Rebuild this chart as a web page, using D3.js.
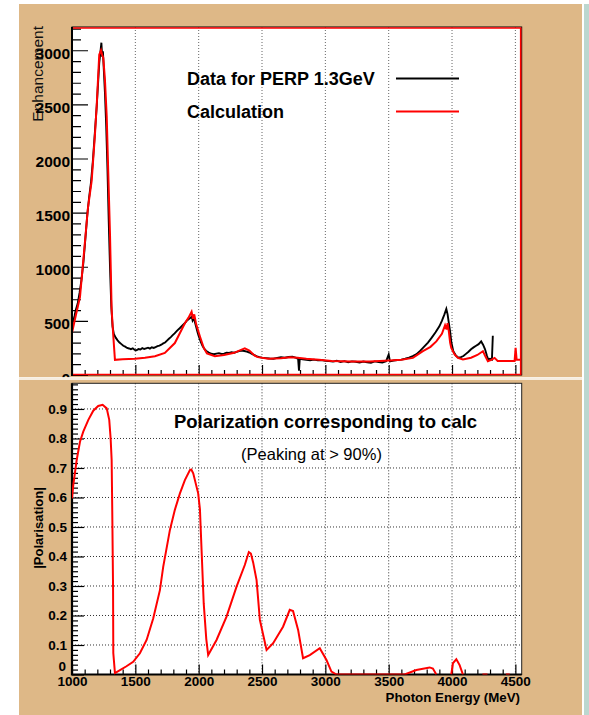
<!DOCTYPE html>
<html>
<head>
<meta charset="utf-8">
<script src="https://cdn.jsdelivr.net/npm/d3@7"></script>
<style>
  body { margin: 0; background: #fff; }
  svg { display: block; font-family: "Liberation Sans", Arial, Helvetica, sans-serif; }
</style>
</head>
<body>
<div id="chart"></div>
<script>
// ---- data ----
// top pad: measured enhancement (black) vs calculation (red)
const dataE = [1000,1010,1020,1030,1045,1060,1075,1090,1105,1120,1135,1150,1165,1180,1195,1205,1215,1225,1232,1238,1244,1252,1260,1270,1280,1290,1300,1310,1320,1330,
  1345,1360,1375,1390,1405,1420,1435,1450,1465,1480,1495,1510,1525,1540,1555,1570,1585,1600,1615,1630,1645,1660,1675,1690,1705,1720,1735,1750,1765,1780,1795,1810,1830,1850,1870,1890,1905,1920,1935,1945,1952,1960,1970,1980,1990,2000,2015,2030,2045,2060,2080,
  2100,2120,2140,2160,2180,2200,2220,2240,2260,2280,2300,2320,2340,2360,2380,2400,2420,2440,2460,2480,2500,2530,2560,2590,2620,2650,2680,2710,2740,2770,2785,2792,2798,2820,2850,2880,2910,2940,2970,
  3000,3030,3060,3090,3120,3150,3180,3210,3240,3270,3300,3330,3360,3390,3420,3450,3480,3500,3510,3540,3570,3600,3630,3660,3690,3720,3750,3780,3810,3840,3870,3900,3920,3940,3955,3965,3975,3985,3995,
  4010,4030,4050,4070,4090,4110,4130,4150,4170,4190,4210,4230,4245,4260,4275,4285,4300,4315,4322];
const dataV = [470,500,545,600,660,760,880,1040,1250,1470,1640,1780,1980,2230,2480,2680,2880,2990,3070,2940,2990,2800,2610,2300,1900,1420,1000,640,450,380,
  345,320,300,285,270,262,250,245,238,246,232,228,240,236,248,240,246,252,244,256,250,258,266,272,280,292,300,318,335,350,368,385,410,432,455,478,500,515,528,540,505,525,490,445,400,360,310,270,240,222,208,
  196,192,198,202,194,198,206,203,210,206,214,220,226,222,216,208,196,184,172,165,160,156,152,150,158,164,160,166,170,158,148,40,150,146,140,136,142,135,138,
  130,128,124,132,120,128,118,126,122,116,124,118,114,126,120,116,128,190,126,134,138,142,150,160,174,192,225,262,300,345,395,450,500,560,610,560,480,400,300,
  220,180,160,165,175,195,215,238,255,270,285,310,280,240,180,146,150,142,362];

const calcE = [1000,1030,1063,1100,1126,1155,1180,1195,1215,1229,1240,1247,1260,1274,1286,1300,1313,1326,1339,1400,1497,1576,1655,1733,1812,1891,1920,1944,1955,1965,1980,2010,2040,2065,2128,
  2200,2280,2330,2364,2400,2440,2467,2550,2650,2720,2780,2850,2950,3050,3200,3350,3508,3600,3691,3770,3830,3876,3920,3945,3957,3965,3975,3985,3994,4020,4047,4086,
  4150,4200,4244,4260,4283,4310,4336,4360,4494,4502,4510,4545];
const calcV = [390,550,720,1200,1545,1790,2200,2490,2960,3000,2950,2930,2730,2390,1880,1300,600,360,140,145,150,160,174,204,295,478,530,585,520,560,470,356,250,200,174,
  185,205,230,247,225,180,165,150,155,165,160,150,140,130,125,125,134,140,158,220,260,310,380,460,420,478,400,300,250,190,158,143,
  160,185,220,180,128,140,158,130,130,250,140,140];

// bottom pad: polarisation from the calculation (null = gap in the curve)
const polE = [1000,1010,1037,1063,1089,1129,1168,1207,1242,1274,1294,1305,1313,1318,1324,1326,1339,1379,1430,1483,1536,1589,1641,1694,1720,1773,1812,1852,1891,1931,1942,1957,1996,2010,2023,2040,2060,2075,
  2141,2220,2299,2364,2396,2412,2430,2457,2483,2536,2588,2666,2719,2745,2785,2824,2877,2956,3009,3048,3088,3626,3718,3823,3849,3876,null,
  3994,4007,4034,4060,4086,null,4240,4280,null,4425,4455];
const polV = [0.597,0.642,0.727,0.789,0.823,0.863,0.894,0.910,0.914,0.902,0.863,0.80,0.727,0.546,0.30,0.073,0.005,0.015,0.028,0.043,0.072,0.117,0.19,0.286,0.365,0.49,0.558,0.614,0.659,0.693,0.695,0.682,0.614,0.56,0.42,0.24,0.12,0.066,
  0.117,0.196,0.298,0.371,0.415,0.41,0.38,0.32,0.185,0.083,0.106,0.162,0.219,0.215,0.151,0.055,0.066,0.089,0.049,0.01,0,0,0.015,0.024,0.02,0,null,
  0,0.038,0.052,0.032,0,null,0,0,null,0,0];

const xTickLabels = ["1000","1500","2000","2500","3000","3500","4000","4500"];
const enhTickLabels = ["0","500","1000","1500","2000","2500","3000"];
const polTickLabels = ["0","0.1","0.2","0.3","0.4","0.5","0.6","0.7","0.8","0.9"];

const legendLabels = ["Data for PERP 1.3GeV", "Calculation"];
const legendColors = ["#000", "#f00"];

// ---- layout ----
const width = 589, height = 715;
const tan = "#deb887";
const frameL = 72, frameR = 521.7;
const topPad = {x: 19, y: 4, w: 563, h: 373.3, top: 27, bottom: 375};
const botPad = {x: 19, y: 380, w: 563, h: 335, top: 383.3, bottom: 674.5};

const svg = d3.select("#chart").append("svg").attr("width", width).attr("height", height);
svg.append("rect").attr("width", width).attr("height", height).attr("fill", "#fff");
svg.append("rect").attr("x", 584).attr("y", 4).attr("width", 5).attr("height", height - 4).attr("fill", "#bcd7cf");

const x = d3.scaleLinear().domain([1000, 4550]).range([frameL, frameR]);
const yEnh = d3.scaleLinear().domain([0, 3215]).range([topPad.bottom, topPad.top]);
const yPol = d3.scaleLinear().domain([0, 0.987]).range([botPad.bottom, botPad.top]);

const majorX = xTickLabels.map(Number);
const minorX = d3.range(1000, 4551, 100).filter(v => v % 500 !== 0);

function makePad(p, id) {
  svg.append("clipPath").attr("id", id).append("rect")
    .attr("x", p.x).attr("y", p.y).attr("width", p.w).attr("height", p.h);
  const g = svg.append("g").attr("clip-path", `url(#${id})`);
  g.append("rect").attr("x", p.x).attr("y", p.y).attr("width", p.w).attr("height", p.h).attr("fill", tan);
  g.append("rect").attr("x", frameL).attr("y", p.top).attr("width", frameR - frameL).attr("height", p.bottom - p.top)
    .attr("fill", "#fff");
  svg.append("clipPath").attr("id", id + "f").append("rect")
    .attr("x", frameL).attr("y", p.top).attr("width", frameR - frameL).attr("height", p.bottom - p.top);
  return g;
}

function gridX(g, p, col) {
  g.append("g").selectAll("line").data(majorX.slice(1)).enter().append("line")
    .attr("x1", d => x(d)).attr("x2", d => x(d)).attr("y1", p.top).attr("y2", p.bottom)
    .attr("stroke", col).attr("stroke-width", 1).attr("stroke-dasharray", "1,2");
}

function xTicks(g, p, withLabels) {
  const ax = d3.axisBottom(x).tickValues(minorX).tickSize(-5).tickFormat("");
  g.append("g").attr("transform", `translate(0,${p.bottom})`).call(ax).call(s => s.select(".domain").remove());
  const axM = d3.axisBottom(x).tickValues(majorX).tickSize(-10).tickPadding(2)
    .tickFormat((d, i) => withLabels ? xTickLabels[i] : "");
  const gm = g.append("g").attr("transform", `translate(0,${p.bottom})`).call(axM);
  gm.select(".domain").remove();
  gm.selectAll("text").attr("font-size", 13.5).attr("font-weight", "bold").attr("fill", "#000")
    .attr("font-family", "Liberation Sans, Arial, sans-serif");
  g.selectAll(".tick line").attr("stroke", "#000").attr("stroke-width", 1.2);
}

// ================= top pad =================
const gTop = makePad(topPad, "clipTop");
gridX(gTop, topPad, "#666");
xTicks(gTop, topPad, false);

const enhMinor = d3.range(0, 3201, 100).filter(v => v % 500 !== 0);
gTop.append("g").attr("transform", `translate(${frameL},0)`)
  .call(d3.axisLeft(yEnh).tickValues(enhMinor).tickSize(-9).tickFormat(""))
  .call(s => s.select(".domain").remove());
const gyTop = gTop.append("g").attr("transform", `translate(${frameL},0)`)
  .call(d3.axisLeft(yEnh).tickValues(enhTickLabels.map(Number)).tickSize(-16).tickPadding(2)
    .tickFormat((d, i) => enhTickLabels[i]));
gyTop.select(".domain").remove();
gyTop.selectAll("text").attr("font-size", 15.5).attr("font-weight", "bold").attr("fill", "#000")
  .attr("dy", "0.52em").attr("font-family", "Liberation Sans, Arial, sans-serif");
gTop.selectAll(".tick line").attr("stroke", "#000").attr("stroke-width", 1.2);

const lineTop = d3.line().x(d => x(d[0])).y(d => yEnh(d[1]));
const curves = gTop.append("g").attr("clip-path", "url(#clipTopf)");
curves.append("path").datum(dataE.map((e, i) => [e, dataV[i]]))
  .attr("d", lineTop).attr("fill", "none").attr("stroke", "#000").attr("stroke-width", 1.9);
curves.append("path").datum(calcE.map((e, i) => [e, calcV[i]]))
  .attr("d", lineTop).attr("fill", "none").attr("stroke", "#f00").attr("stroke-width", 2);

// frame (calc histogram outline sits on top/right/bottom edges)
gTop.append("rect").attr("x", frameL).attr("y", topPad.top).attr("width", frameR - frameL).attr("height", topPad.bottom - topPad.top)
  .attr("fill", "none").attr("stroke", "#000").attr("stroke-width", 1);
gTop.append("path")
  .attr("d", `M${frameL},${topPad.top + 1}H${frameR - 1}V${topPad.bottom - 0.5}H${frameL}`)
  .attr("fill", "none").attr("stroke", "#f00").attr("stroke-width", 1.6);
gTop.append("line").attr("x1", frameL).attr("x2", frameL).attr("y1", topPad.top).attr("y2", topPad.bottom + 1)
  .attr("stroke", "#000").attr("stroke-width", 2);

// legend
legendLabels.forEach((t, i) => {
  const yy = [78.5, 111.5][i];
  gTop.append("text").attr("x", 187).attr("y", yy + 6.5).text(t)
    .attr("font-size", 18).attr("font-weight", "bold").attr("fill", "#000");
  gTop.append("line").attr("x1", 396).attr("x2", 459).attr("y1", yy).attr("y2", yy)
    .attr("stroke", legendColors[i]).attr("stroke-width", 2);
});

// axis title
gTop.append("text").attr("transform", "translate(43,26) rotate(-90)")
  .attr("text-anchor", "end").attr("font-size", 15.5).attr("fill", "#111").text("Enhancement");

// separator between the pads
svg.append("rect").attr("x", 19).attr("y", 377.3).attr("width", 563).attr("height", 2.7).attr("fill", "#f6ede0");

// ================= bottom pad =================
const gBot = makePad(botPad, "clipBot");
gridX(gBot, botPad, "#333");
gBot.append("g").selectAll("line").data(polTickLabels.slice(1).map(Number)).enter().append("line")
  .attr("x1", frameL).attr("x2", frameR).attr("y1", d => yPol(d)).attr("y2", d => yPol(d))
  .attr("stroke", "#333").attr("stroke-width", 1).attr("stroke-dasharray", "1,2");
xTicks(gBot, botPad, true);

const polMinor = d3.range(0, 60).map(i => i / 60).filter(v => v <= 0.987 && Math.abs(v * 10 - Math.round(v * 10)) > 1e-6);
gBot.append("g").attr("transform", `translate(${frameL},0)`)
  .call(d3.axisLeft(yPol).tickValues(polMinor).tickSize(-6).tickFormat(""))
  .call(s => s.select(".domain").remove());
const gyBot = gBot.append("g").attr("transform", `translate(${frameL},0)`)
  .call(d3.axisLeft(yPol).tickValues(polTickLabels.map(Number)).tickSize(-12).tickPadding(5)
    .tickFormat((d, i) => polTickLabels[i]));
gyBot.select(".domain").remove();
gyBot.selectAll("text").attr("font-size", 13.5).attr("font-weight", "bold").attr("fill", "#000")
  .attr("font-family", "Liberation Sans, Arial, sans-serif");
// the "0" sits just above the "1000" label
gyBot.selectAll(".tick").filter(d => d === 0).select("text").attr("dy", "-0.32em").attr("x", -6);
gBot.selectAll(".tick line").attr("stroke", "#000").attr("stroke-width", 1.2);

gBot.append("rect").attr("x", frameL).attr("y", botPad.top).attr("width", frameR - frameL).attr("height", botPad.bottom - botPad.top)
  .attr("fill", "none").attr("stroke", "#222").attr("stroke-width", 1);
gBot.append("path").attr("d", `M${frameL},${botPad.top}V${botPad.bottom}H${frameR}`)
  .attr("fill", "none").attr("stroke", "#000").attr("stroke-width", 2.2);

const linePol = d3.line().defined(d => d[0] != null).x(d => x(d[0])).y(d => yPol(d[1]));
gBot.append("g").attr("clip-path", "url(#clipBotf)").append("path")
  .datum(polE.map((e, i) => [e, polV[i]]))
  .attr("d", linePol).attr("fill", "none").attr("stroke", "#f00").attr("stroke-width", 2);

gBot.append("text").attr("x", 325.5).attr("y", 428).text("Polarization corresponding to calc")
  .attr("font-size", 18.5).attr("font-weight", "bold").attr("fill", "#000").attr("text-anchor", "middle");
gBot.append("text").attr("x", 311.5).attr("y", 460).text("(Peaking at > 90%)")
  .attr("font-size", 16.5).attr("fill", "#000").attr("text-anchor", "middle");

gBot.append("text").attr("x", 520).attr("y", 702).attr("text-anchor", "end")
  .attr("font-size", 13.3).attr("font-weight", "bold").attr("fill", "#000").text("Photon Energy (MeV)");
gBot.append("text").attr("transform", "translate(43,528) rotate(-90)").attr("text-anchor", "middle")
  .attr("font-size", 13).attr("font-weight", "bold").attr("fill", "#000").text("|Polarisation|");
</script>
</body>
</html>
